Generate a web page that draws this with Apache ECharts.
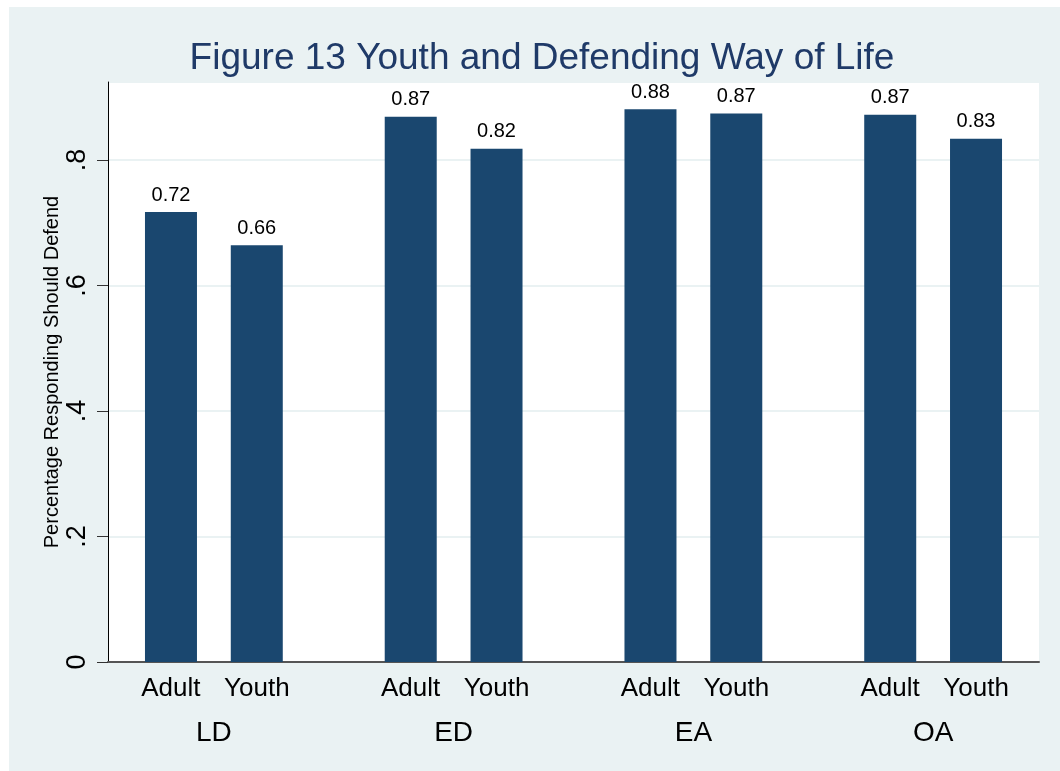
<!DOCTYPE html>
<html>
<head>
<meta charset="utf-8">
<title>Figure 13 Youth and Defending Way of Life</title>
<script src="https://cdn.jsdelivr.net/npm/echarts@6/dist/echarts.min.js"></script>
<style>
  html, body { margin: 0; padding: 0; background: #fff; }
  #chart { width: 1060px; height: 771px; }
</style>
</head>
<body>
<div id="chart"></div>
<script>
// groups along the x axis and the two bars in each group
var groups = ['LD', 'ED', 'EA', 'OA']
var subLabels = ['Adult', 'Youth']
// share responding "should defend"
var adultValues = [0.717, 0.869, 0.881, 0.872]
var youthValues = [0.664, 0.818, 0.874, 0.834]
// y tick labels, Stata style without leading zero
var yTickLabels = ['0', '.2', '.4', '.6', '.8']

var font = 'Liberation Sans, Arial, Helvetica, sans-serif'
var barColor = '#1a476f'
var yMax = 0.9243

var chart = echarts.init(document.getElementById('chart'))

function barLabel() {
  return {
    show: true,
    position: 'top',
    distance: 7,
    color: '#000',
    fontSize: 20,
    fontFamily: font,
    formatter: function (p) { return p.value.toFixed(2) }
  }
}

var option = {
  animation: false,
  backgroundColor: '#fff',
  textStyle: { fontFamily: font },
  graphic: [
    {
      // light outer background of the graph region
      type: 'rect',
      z: -10,
      silent: true,
      shape: { x: 9, y: 7, width: 1051, height: 764 },
      style: { fill: '#eaf2f3' }
    }
  ],
  title: {
    text: 'Figure 13 Youth and Defending Way of Life',
    left: 537,
    textAlign: 'center',
    top: 35,
    textStyle: { color: '#1f3a68', fontSize: 37, fontWeight: 'normal', fontFamily: font }
  },
  grid: [
    // plot region: white background, y axis, x axis line
    { left: 108, right: 21, top: 82, bottom: 109, show: true, backgroundColor: '#fff', borderWidth: 0 },
    // bars are placed in a slightly wider band so the group spacing matches
    { left: 94, right: 7, top: 82, bottom: 109 }
  ],
  xAxis: [
    {
      type: 'category',
      gridIndex: 0,
      data: groups,
      axisLine: { show: true, lineStyle: { color: '#555', width: 2 } },
      axisTick: { show: false },
      axisLabel: { show: false },
      splitLine: { show: false }
    },
    {
      type: 'category',
      gridIndex: 1,
      data: groups,
      axisLine: { show: false },
      axisTick: { show: false },
      splitLine: { show: false },
      axisLabel: {
        interval: 0,
        margin: 7,
        formatter: function (v) {
          return '{s|' + subLabels[0] + '}{s|' + subLabels[1] + '}\n{g|' + v + '}'
        },
        rich: {
          s: { width: 86, align: 'center', fontSize: 26, lineHeight: 40, color: '#000', fontFamily: font },
          g: { width: 172, align: 'center', fontSize: 28, lineHeight: 48, color: '#000', fontFamily: font }
        }
      }
    }
  ],
  yAxis: [
    {
      type: 'value',
      gridIndex: 0,
      min: 0,
      max: yMax,
      interval: 0.2,
      name: 'Percentage Responding Should Defend',
      nameLocation: 'middle',
      nameRotate: 90,
      nameGap: 46,
      nameMoveOverlap: false,
      nameTextStyle: { color: '#000', fontSize: 20, fontFamily: font },
      axisLine: { show: true, lineStyle: { color: '#000', width: 1 } },
      axisTick: { show: true, length: 11, lineStyle: { color: '#333', width: 1 } },
      axisLabel: {
        rotate: 90,
        margin: 17,
        fontSize: 27,
        color: '#000',
        fontFamily: font,
        showMaxLabel: false,
        formatter: function (v) {
          var i = Math.round(v / 0.2)
          return yTickLabels[i] !== undefined ? yTickLabels[i] : ''
        }
      },
      splitLine: { show: true, lineStyle: { color: '#eaf2f3', width: 2 } }
    },
    {
      type: 'value',
      gridIndex: 1,
      min: 0,
      max: yMax,
      interval: 0.2,
      show: false,
      splitLine: { show: false }
    }
  ],
  series: [
    {
      name: subLabels[0],
      type: 'bar',
      xAxisIndex: 1,
      yAxisIndex: 1,
      data: adultValues,
      barWidth: 52,
      barGap: '65%',
      itemStyle: { color: barColor },
      label: barLabel()
    },
    {
      name: subLabels[1],
      type: 'bar',
      xAxisIndex: 1,
      yAxisIndex: 1,
      data: youthValues,
      barWidth: 52,
      barGap: '65%',
      itemStyle: { color: barColor },
      label: barLabel()
    }
  ]
}

chart.setOption(option)
</script>
</body>
</html>
